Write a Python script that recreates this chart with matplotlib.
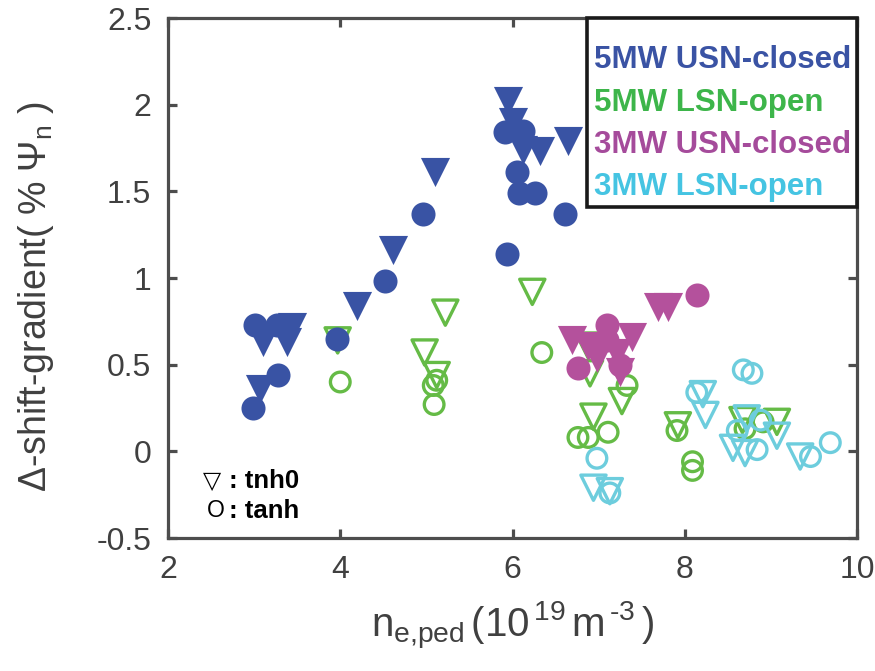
import matplotlib
matplotlib.use('Agg')
from matplotlib import pyplot as plt
from matplotlib.patches import Rectangle

# 5MW USN-closed (filled)
b_tri_x = [3.10, 3.38, 3.44, 3.07, 4.20, 4.61, 5.10, 5.95, 6.01, 6.12, 6.32, 6.65]
b_tri_y = [0.63, 0.63, 0.72, 0.36, 0.84, 1.16, 1.61, 2.02, 1.90, 1.74, 1.73, 1.79]
b_cir_x = [3.01, 3.27, 3.28, 2.99, 3.96, 4.52, 4.96, 5.94, 5.91, 6.12, 6.05, 6.07, 6.26, 6.61]
b_cir_y = [0.73, 0.73, 0.44, 0.25, 0.65, 0.98, 1.37, 1.14, 1.84, 1.85, 1.61, 1.49, 1.49, 1.37]

# 5MW LSN-open (open)
g_tri_x = [3.97, 5.22, 4.98, 5.12, 6.23, 6.88, 6.90, 7.27, 6.94, 7.92, 8.67, 9.07]
g_tri_y = [0.64, 0.80, 0.57, 0.44, 0.92, 0.61, 0.45, 0.29, 0.20, 0.15, 0.18, 0.17]
g_cir_x = [4.00, 5.08, 5.12, 5.09, 6.34, 7.33, 6.76, 6.88, 7.11, 7.91, 8.09, 8.09, 8.91, 8.70]
g_cir_y = [0.40, 0.38, 0.41, 0.27, 0.57, 0.38, 0.08, 0.08, 0.11, 0.12, -0.06, -0.11, 0.17, 0.13]

# 3MW USN-closed (filled)
m_tri_x = [6.69, 6.88, 6.98, 7.39, 7.21, 7.25, 7.69, 7.80]
m_tri_y = [0.64, 0.61, 0.54, 0.66, 0.57, 0.46, 0.83, 0.83]
m_cir_x = [6.76, 7.10, 7.10, 7.25, 8.14]
m_cir_y = [0.48, 0.73, 0.64, 0.50, 0.90]

# 3MW LSN-open (open)
c_tri_x = [6.94, 7.13, 8.21, 8.24, 8.72, 9.07, 8.56, 8.70, 9.34]
c_tri_y = [-0.21, -0.23, 0.33, 0.21, 0.19, 0.09, 0.02, -0.01, -0.03]
c_cir_x = [6.98, 7.13, 8.68, 8.78, 8.14, 8.61, 8.88, 8.84, 9.46, 9.69]
c_cir_y = [-0.04, -0.24, 0.47, 0.45, 0.34, 0.12, 0.18, 0.01, -0.03, 0.05]

legend_labels = ['5MW USN-closed', '5MW LSN-open', '3MW USN-closed', '3MW LSN-open']
legend_colors = ['#3a53a4', '#3db54a', '#a54b9b', '#45c4e2']

xticks = [2, 4, 6, 8, 10]
yticks = [-0.5, 0, 0.5, 1, 1.5, 2, 2.5]
yticklabels = ['-0.5', '0', '0.5', '1', '1.5', '2', '2.5']

blue = '#3953a4'
green = '#65bb46'
magenta = '#b4519c'
cyan = '#6dcddd'

plt.rcParams['font.family'] = 'Liberation Sans'
plt.rcParams['mathtext.fontset'] = 'custom'
plt.rcParams['mathtext.rm'] = 'Liberation Sans'
plt.rcParams['mathtext.it'] = 'Liberation Sans:italic'
plt.rcParams['mathtext.bf'] = 'Liberation Sans:bold'

fig = plt.figure(figsize=(8.75, 6.71), dpi=100, facecolor='white')
ax = fig.add_axes([168/875, 1-538/671, 689/875, 520/671])

s_tri = 440
s_cir = 300
s_otri = 330
s_ocir = 200
lw_o = 2.4

ax.scatter(g_tri_x, g_tri_y, s=s_otri, marker='v', facecolor='none', edgecolor=green, lw=lw_o)
ax.scatter(g_cir_x, g_cir_y, s=s_ocir, marker='o', facecolor='none', edgecolor=green, lw=lw_o)
ax.scatter(b_tri_x, b_tri_y, s=s_tri, marker='v', color=blue, lw=0)
ax.scatter(b_cir_x, b_cir_y, s=s_cir, marker='o', color=blue, lw=0)
ax.scatter(m_tri_x, m_tri_y, s=s_tri, marker='v', color=magenta, lw=0)
ax.scatter(m_cir_x, m_cir_y, s=s_cir, marker='o', color=magenta, lw=0)
ax.scatter(c_tri_x, c_tri_y, s=s_otri, marker='v', facecolor='none', edgecolor=cyan, lw=lw_o)
ax.scatter(c_cir_x, c_cir_y, s=s_ocir, marker='o', facecolor='none', edgecolor=cyan, lw=lw_o)

ax.set_xlim(2, 10)
ax.set_ylim(-0.5, 2.5)
ax.set_xticks(xticks)
ax.set_xticklabels([str(t) for t in xticks])
ax.set_yticks(yticks)
ax.set_yticklabels(yticklabels)

spine_c = '#4d4d4d'
for sp in ax.spines.values():
    sp.set_color(spine_c)
    sp.set_linewidth(2.3)
ax.tick_params(direction='in', length=6.5, width=2.3, color=spine_c,
               labelsize=23, labelcolor='#404040', top=True, right=True)
ax.tick_params(axis='x', pad=12)
ax.tick_params(axis='y', pad=12)

ax.set_xlabel(r'$\mathregular{n_{e{,}ped}\,(10^{\,19}\,m^{\,\text{-3}}\,)}$', fontsize=29,
              color='#404040', labelpad=11)
ax.set_ylabel(r'$\Delta$-shift-gradient( % $\Psi_{\mathregular{n}}$ )', fontsize=27,
              color='#404040')
ax.yaxis.set_label_coords(-0.162, 0.465)

# legend box
box_y0 = 0.6365
ax.add_patch(Rectangle((0.608, box_y0), 0.392, 1 - box_y0, transform=ax.transAxes,
                       facecolor='white', edgecolor='#1a1a1a', lw=2.6, clip_on=False, zorder=5))
for i, (lab, col) in enumerate(zip(legend_labels, legend_colors)):
    ax.text(0.619, 0.919 - i * 0.0815, lab, transform=ax.transAxes, color=col,
            fontsize=22.5, fontweight='bold', va='center', ha='left', zorder=6)

# marker note
ax.text(0.050, 0.11, u'\u25bd', transform=ax.transAxes, fontsize=17, family='DejaVu Sans',
        va='center', ha='left')
ax.text(0.088, 0.11, ': tnh0', transform=ax.transAxes, fontsize=18.5, fontweight='bold',
        va='center', ha='left')
ax.text(0.056, 0.052, 'O', transform=ax.transAxes, fontsize=16.5, va='center', ha='left')
ax.text(0.088, 0.052, ': tanh', transform=ax.transAxes, fontsize=18.5, fontweight='bold',
        va='center', ha='left')

plt.savefig('out.png', dpi=100)
